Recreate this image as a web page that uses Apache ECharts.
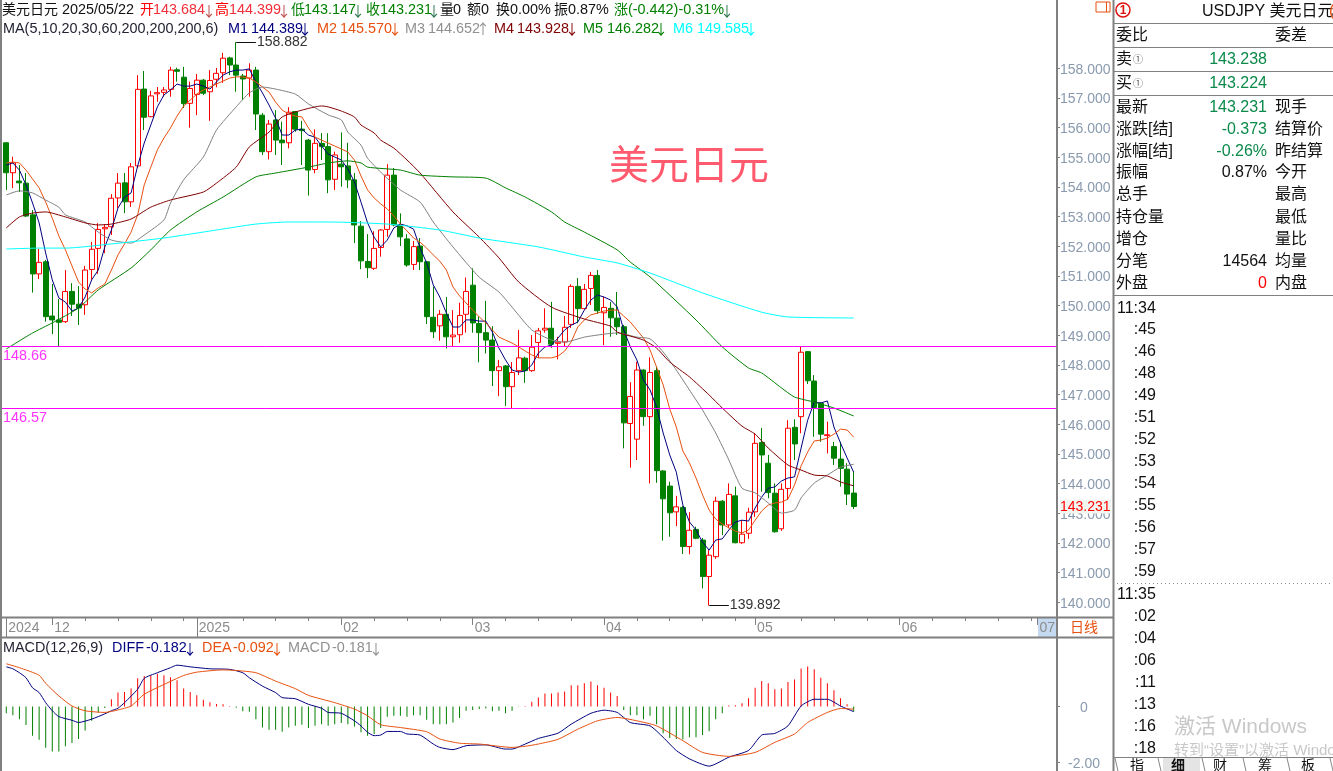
<!DOCTYPE html>
<html>
<head>
<meta charset="utf-8">
<title>USDJPY</title>
<script src="https://cdn.jsdelivr.net/npm/echarts@6/dist/echarts.min.js"></script>
<style>
html, body { margin: 0; padding: 0; background: #fff; overflow: hidden; }
#chart { width: 1333px; height: 771px; }
</style>
</head>
<body>
<div id="chart"></div>
<script>
// open, close, low, high
const ohlc = [
  [155.49,154.48,153.90,155.51],[154.48,154.81,153.96,155.02],[154.20,154.14,153.83,154.74],[154.13,153.02,152.99,154.47],
  [153.06,151.07,150.44,153.22],[151.07,151.46,150.90,151.91],[151.48,149.63,149.46,151.54],[149.65,149.52,149.04,150.73],
  [149.52,149.44,148.64,150.23],[149.46,150.48,149.42,151.20],[150.48,150.05,149.65,150.76],[150.05,149.92,149.35,150.66],
  [150.03,151.20,149.69,151.34],[151.22,151.90,150.87,152.15],[151.93,152.57,151.07,152.78],[152.59,152.64,151.77,152.75],
  [152.66,153.62,152.38,153.76],[153.63,154.13,153.29,154.47],[154.14,153.50,153.12,154.47],[153.50,154.68,153.33,154.81],
  [154.71,157.29,154.64,157.77],[157.30,156.35,155.92,157.91],[156.37,157.07,156.35,157.24],[157.14,157.18,156.87,157.37],
  [157.19,157.27,157.04,157.37],[157.29,157.94,157.04,158.05],[157.95,157.90,157.55,158.02],[157.70,156.81,156.66,158.05],
  [156.82,157.32,156.00,157.55],[157.12,157.60,156.42,157.81],[157.60,157.16,157.10,157.64],[157.21,157.59,156.23,157.94],
  [157.63,157.83,157.36,158.01],[157.85,158.34,157.51,158.52],[158.35,158.11,157.77,158.39],[158.11,157.77,157.21,158.882],
  [157.74,157.64,156.93,157.81],[157.67,157.94,157.04,158.17],[157.94,156.46,155.92,158.05],[156.42,155.19,155.08,156.49],
  [155.19,156.12,154.93,156.26],[156.26,155.58,155.08,156.59],[155.58,155.49,154.74,156.20],[155.49,156.52,155.30,156.69],
  [156.54,155.95,155.86,156.56],[155.95,155.90,154.74,156.23],[155.58,154.57,153.71,155.62],[154.59,155.47,154.46,155.94],
  [155.47,155.36,154.91,155.82],[155.36,154.24,153.79,155.81],[154.26,155.08,153.90,155.19],[154.77,154.68,154.01,155.84],
  [154.71,154.24,153.96,155.49],[154.24,152.72,152.11,154.47],[152.68,151.51,151.23,152.85],[151.49,151.28,150.93,152.41],
  [151.26,151.93,151.20,152.51],[151.96,152.55,151.65,152.58],[152.57,154.40,152.32,154.77],[154.40,152.72,152.68,154.64],
  [152.72,152.32,152.01,153.11],[152.25,151.37,151.31,152.41],[151.39,151.99,151.20,152.18],[152.01,151.48,151.20,152.28],
  [151.48,149.63,149.38,151.50],[149.61,149.12,148.91,150.64],[149.32,149.71,148.82,149.85],[149.71,148.95,148.56,150.29],
  [148.95,149.01,148.64,149.85],[149.02,149.67,148.75,150.10],[149.71,150.48,149.09,150.95],[150.69,149.42,149.09,151.26],
  [149.40,149.09,148.09,149.63],[149.09,148.84,148.39,150.16],[148.84,147.81,147.29,149.31],[147.81,147.94,146.95,148.17],
  [147.97,147.27,146.62,148.00],[147.27,147.75,146.54,148.10],[147.81,148.24,147.66,149.18],[148.23,147.81,147.40,148.28],
  [147.81,148.60,147.77,149.01],[148.76,149.15,148.24,149.25],[149.18,149.24,149.09,149.91],[149.24,148.70,148.58,150.13],
  [148.73,148.77,148.19,148.95],[148.78,149.27,148.64,149.65],[149.37,150.65,149.25,150.72],[150.65,149.90,149.41,150.93],
  [149.90,150.55,149.88,150.73],[150.58,151.02,150.02,151.14],[151.02,149.83,149.72,151.20],[149.76,149.94,148.67,150.30],
  [149.91,149.59,148.95,150.13],[149.58,149.29,149.01,150.46],[149.29,146.05,145.19,149.35],[146.03,146.94,144.54,147.42],
  [145.50,147.83,144.80,148.11],[147.83,146.26,145.95,147.86],[146.26,147.75,144.01,148.26],[147.81,144.44,144.03,147.94],
  [144.43,143.49,142.08,144.46],[143.92,143.02,142.21,144.07],[143.05,143.22,142.57,143.59],[143.20,141.88,141.63,143.25],
  [141.88,142.43,141.62,143.04],[142.46,142.16,142.13,142.55],[142.10,140.87,140.47,142.17],[140.87,141.59,139.892,141.76],
  [141.54,143.41,141.47,143.56],[143.41,142.61,142.27,143.45],[142.61,143.64,142.50,144.01],[143.59,142.01,141.99,143.90],
  [142.01,142.30,141.97,142.77],[142.33,143.04,142.14,143.19],[143.05,145.36,142.88,145.70],[145.39,144.97,143.73,145.88],
  [144.69,143.70,143.51,144.97],[143.68,142.38,142.35,144.01],[142.48,143.81,142.41,144.01],[143.84,145.87,143.45,146.14],
  [145.90,145.34,144.80,146.17],[146.26,148.43,145.70,148.62],[148.45,147.47,147.36,148.47],[147.46,146.57,145.58,147.66],
  [146.71,145.67,145.41,146.75],[145.62,145.65,145.02,146.09],[145.25,144.86,144.63,145.41],[144.83,144.52,143.90,145.41],
  [144.49,143.65,143.28,144.69],[143.684,143.231,143.147,144.399]
]

const ma5 = [154.74,154.81,154.57,154.07,153.46,152.79,151.77,150.87,150.26,150.12,149.82,149.92,150.29,150.87,151.20,151.98,152.55,153.29,153.66,153.80,
  154.71,155.48,156.09,156.70,157.10,157.27,157.47,157.40,157.40,157.47,157.40,157.30,157.54,157.77,157.88,157.94,157.94,157.98,157.54,157.17,
  156.76,156.32,155.75,155.75,155.92,155.95,155.75,155.68,155.38,155.11,155.01,154.91,154.61,154.17,153.49,152.79,152.31,151.98,152.21,152.62,
  152.75,152.69,152.58,151.94,151.44,150.70,150.29,149.75,149.28,149.28,149.52,149.52,149.48,149.48,149.11,148.57,148.17,147.83,147.76,147.80,
  148.00,148.40,148.61,148.67,148.91,149.18,149.34,149.45,149.85,150.19,150.36,150.29,150.19,149.96,149.18,148.61,148.17,147.49,147.16,146.58,
  145.71,144.97,144.39,143.28,142.71,142.44,142.03,141.76,142.10,142.14,142.44,142.71,142.77,142.74,143.18,143.55,143.85,143.89,144.09,144.19,
  144.23,145.20,146.14,146.75,146.72,146.79,145.91,145.37,144.87,144.389]

const ma10 = [154.81,154.84,154.81,154.57,154.27,153.97,153.49,152.95,152.35,151.88,151.34,150.80,150.56,150.43,150.60,150.73,151.20,151.71,152.08,152.48,
  153.06,154.07,154.67,155.25,155.65,155.99,156.39,156.73,156.93,157.13,157.27,157.37,157.47,157.57,157.67,157.71,157.71,157.67,157.54,157.37,
  157.20,156.86,156.59,156.46,156.39,156.36,155.99,155.68,155.58,155.48,155.38,155.28,155.18,154.91,154.37,153.90,153.63,153.43,153.26,153.02,
  152.75,152.52,152.28,152.14,151.94,151.71,151.50,151.20,150.63,150.33,150.09,149.85,149.62,149.42,149.18,148.94,148.84,148.74,148.61,148.47,
  148.34,148.24,148.24,148.24,148.30,148.47,148.78,149.28,149.52,149.69,149.75,149.82,149.85,149.85,149.65,149.45,149.18,148.91,148.51,147.93,
  147.33,146.52,145.91,145.10,144.70,144.19,143.62,143.11,142.81,142.64,142.51,142.40,142.34,142.44,142.77,143.08,143.28,143.35,143.38,143.48,
  143.96,144.60,145.07,145.44,145.47,145.54,145.67,145.84,145.81,145.570]

// the slower lines, read as [bar index, value] at their bends
const ma20 = [[0,153.73],[2,153.87],[4,153.80],[6,153.56],[8,153.32],[9,153.06],[12,152.82],[14,152.48],[16,152.21],[19,152.11],[21,152.38],[24,152.89],[25,153.46],[27,154.24],[30,155.01],[32,155.92],[35,156.70],[37,157.17],[39,157.37],[41,157.30],[44,157.13],[46,156.80],[49,156.43],[51,156.26],[52,155.85],[54,155.41],[55,154.97],[57,154.50],[60,153.90],[63,153.49],[65,152.82],[68,151.98],[72,150.96],[75,150.46],[77,149.95],[80,149.18],[83,148.84],[85,148.77],[88,148.94],[91,149.04],[93,149.08],[96,148.94],[98,148.88],[100,148.44],[102,147.83],[104,147.16],[106,146.48],[108,145.71],[110,144.80],[112,143.85],[114,143.69],[116,143.35],[118,143.01],[120,143.11],[121,143.52],[123,144.02],[125,144.29],[127,144.56],[129,144.652]]
const ma30 = [[0,152.62],[2,152.99],[4,153.12],[6,153.16],[9,152.99],[12,152.79],[14,152.72],[16,152.75],[19,152.92],[22,153.32],[25,153.56],[30,153.83],[32,154.13],[35,154.67],[37,155.35],[40,155.85],[42,156.36],[45,156.59],[48,156.73],[49,156.70],[51,156.56],[53,156.36],[54,156.09],[56,155.82],[57,155.58],[59,155.31],[61,154.91],[63,154.47],[68,153.16],[72,152.31],[75,151.61],[78,150.80],[83,149.95],[88,149.55],[92,149.31],[93,149.11],[97,148.84],[99,148.57],[101,148.10],[104,147.60],[107,146.99],[109,146.55],[112,145.94],[114,145.67],[116,145.20],[119,144.63],[121,144.46],[123,144.29],[125,144.26],[127,144.06],[129,143.928]]
const ma60 = [[0,148.54],[4,149.08],[7,149.42],[11,149.92],[14,150.53],[19,151.27],[22,151.88],[25,152.55],[29,153.16],[33,153.66],[38,154.34],[41,154.47],[46,154.67],[49,154.81],[52,154.88],[54,154.81],[55,154.67],[60,154.57],[63,154.40],[68,154.34],[73,154.30],[76,153.97],[79,153.66],[83,153.16],[85,152.82],[88,152.48],[93,151.88],[95,151.47],[98,150.97],[105,149.52],[109,148.61],[113,147.90],[115,147.73],[118,147.23],[120,146.92],[123,146.75],[126,146.55],[129,146.282]]
const ma200 = [[0,151.91],[5,151.94],[9,151.94],[16,152.08],[24,152.28],[32,152.55],[38,152.75],[43,152.82],[49,152.82],[58,152.75],[66,152.55],[72,152.28],[81,151.98],[88,151.64],[93,151.44],[98,151.10],[106,150.43],[115,149.78],[119,149.62],[129,149.585]]

const macdBars = [-0.24,-0.31,-0.45,-0.66,-1.04,-1.19,-1.47,-1.61,-1.61,-1.42,-1.30,-1.16,-0.86,-0.51,-0.21,-0.05,0.26,0.50,0.52,0.65,
  1.01,1.09,1.12,1.17,1.12,1.05,0.94,0.65,0.52,0.40,0.24,0.15,0.09,0.08,0.02,-0.04,-0.17,-0.19,-0.45,-0.75,
  -0.83,-0.83,-0.90,-0.75,-0.69,-0.65,-0.77,-0.69,-0.63,-0.69,-0.63,-0.59,-0.63,-0.71,-0.92,-1.04,-0.98,-0.77,-0.36,-0.33,
  -0.33,-0.36,-0.31,-0.31,-0.47,-0.63,-0.63,-0.63,-0.57,-0.41,-0.15,-0.12,-0.09,-0.07,-0.17,-0.15,-0.24,-0.15,-0.01,0.02,
  0.17,0.32,0.47,0.47,0.50,0.54,0.76,0.76,0.83,0.90,0.76,0.67,0.50,0.38,-0.12,-0.31,-0.31,-0.45,-0.33,-0.63,
  -0.95,-1.12,-1.16,-1.18,-1.10,-1.10,-1.02,-0.88,-0.45,-0.24,0.04,0.05,0.12,0.30,0.67,0.91,0.83,0.62,0.65,0.88,
  0.97,1.36,1.43,1.33,1.03,0.83,0.58,0.30,0.08,-0.181]
const diff = [[0,1.42],[1,1.35],[2,1.21],[3,1.03],[4,0.67],[5,0.50],[6,0.14],[7,-0.15],[8,-0.36],[10,-0.49],[11,-0.57],[13,-0.45],[15,-0.26],[16,-0.15],[17,-0.06],[18,0.14],[20,0.62],[21,1.01],[23,1.21],[25,1.39],[26,1.48],[28,1.42],[31,1.35],[34,1.33],[36,1.21],[37,1.03],[39,0.73],[41,0.50],[42,0.32],[44,0.28],[46,0.08],[48,-0.06],[49,-0.21],[51,-0.24],[53,-0.51],[54,-0.69],[55,-0.92],[56,-1.04],[57,-1.02],[58,-0.89],[60,-0.89],[61,-0.98],[63,-1.02],[65,-1.34],[66,-1.46],[68,-1.54],[70,-1.40],[73,-1.37],[76,-1.52],[77,-1.52],[79,-1.34],[81,-1.14],[84,-0.95],[86,-0.63],[89,-0.24],[91,-0.13],[93,-0.21],[95,-0.57],[98,-0.69],[100,-1.10],[102,-1.57],[104,-1.87],[107,-2.13],[110,-1.81],[113,-1.57],[115,-1.02],[117,-0.96],[119,-0.69],[121,0.02],[123,0.26],[125,0.26],[127,0.02],[129,-0.182]]
const dea = [[0,1.53],[2,1.39],[5,1.12],[6,0.83],[8,0.38],[10,0.02],[12,-0.15],[15,-0.21],[17,-0.12],[19,0.02],[21,0.44],[24,0.79],[27,1.11],[29,1.23],[33,1.31],[35,1.29],[38,1.21],[41,0.91],[44,0.64],[46,0.40],[50,0.14],[53,-0.09],[55,-0.33],[57,-0.65],[60,-0.75],[64,-0.90],[66,-1.16],[69,-1.31],[72,-1.34],[77,-1.46],[79,-1.42],[81,-1.34],[84,-1.17],[87,-0.81],[90,-0.51],[93,-0.39],[96,-0.51],[99,-0.69],[103,-1.22],[106,-1.64],[110,-1.78],[114,-1.64],[117,-1.28],[120,-0.98],[122,-0.57],[125,-0.21],[127,-0.07],[129,-0.092]]

const priceTicks = [140,141,142,143,144,145,146,147,148,149,150,151,152,153,154,155,156,157,158]
const levels = [148.66, 146.57]
const yearIdx = [0, 29]
const monthIdx = [7, 51, 71, 91, 114, 136, 157]
const weekIdx = [12,17,22,27,36,41,46,56,61,66,76,81,86,96,101,106,111,121,126,131,141,146,151,156]
const monthNames = { 0: '2024', 7: '12', 29: '2025', 51: '02', 71: '03', 91: '04', 114: '05', 136: '06', 157: '07' }
const barCount = 160
const days = []
for (let i = 0; i < barCount; i++) {
  days.push(String(i))
}

const font = "'Liberation Sans','Noto Sans CJK SC',sans-serif"
const red = '#ff0000'
const green = '#008000'
const navy = '#000080'
const orange = '#e8500f'
const grey = '#808080'
const darkRed = '#800000'
const axisText = '#8a9aae'
const quoteGreen = '#0a8a4a'
const frame = '#808080'
const headSize = 14.4

// header pieces: text, x, colour (arrows: x is the glyph centre)
const headerRow1 = [
  ['美元日元',2,'#111'],['2025/05/22',62,'#111'],['开',140,red],['143.684',153,'#f0303a'],['↓',209,'#c05050'],
  ['高',215,red],['144.399',229,'#f0303a'],['↓',284,'#c05050'],['低',291,green],['143.147',304,green],['↓',358,'#307850'],
  ['收',366,green],['143.231',380,green],['↓',434,'#307850'],['量',440,'#111'],['0',453,'#111'],['额',467,'#111'],['0',481,'#111'],
  ['换',496,'#111'],['0.00%',510,'#111'],['振',554,'#111'],['0.87%',568,'#111'],['涨',614,green],['(-0.442)-0.31%',628,green],['↓',727,'#307850']
]
const headerRow2 = [
  ['MA(5,10,20,30,60,200,200,200,6)',3,'#223'],['M1',228,navy],['144.389',251,navy],['↓',305,navy],
  ['M2',317,orange],['145.570',340,orange],['↓',395,orange],['M3',405,'#909090'],['144.652',428,'#909090'],['↑',483,'#909090'],
  ['M4',494,darkRed],['143.928',517,darkRed],['↓',572,darkRed],['M5',583,green],['146.282',607,green],['↓',661,green],
  ['M6',673,'#00ffff'],['149.585',697,'#00ffff'],['↓',751,'#00ffff']
]
const macdHeader = [
  ['MACD(12,26,9)',3,'#223'],['DIFF',112,navy],['-0.182',146,navy],['↓',190,navy],['DEA',202,orange],['-0.092',233,orange],['↓',277,orange],
  ['MACD',288,'#909090'],['-0.181',332,'#909090'],['↓',376,'#909090']
]

// side panel rows: y, left label, value, value colour, right label
const panelRows = [
  [35,'委比','','','委差'],[59,'卖','143.238',quoteGreen,''],[83,'买','143.224',quoteGreen,''],
  [107,'最新','143.231',quoteGreen,'现手'],[129,'涨跌[结]','-0.373',quoteGreen,'结算价'],[151,'涨幅[结]','-0.26%',quoteGreen,'昨结算'],
  [172,'振幅','0.87%','#111','今开'],[194,'总手','','','最高'],[217,'持仓量','','','最低'],[239,'增仓','','','量比'],
  [261,'分笔','14564','#111','均量'],[283,'外盘','0',red,'内盘']
]
const panelLines = [23,47,71,95,295]
const timeRows = [
  [329,':45'],[351,':46'],[373,':48'],[395,':49'],[417,':51'],[439,':52'],[461,':53'],[483,':54'],[505,':55'],[527,':56'],[549,':57'],[571,':59'],
  [616,':02'],[638,':04'],[660,':06'],[682,':11'],[704,':13'],[726,':16'],[748,':18']
]
const tabs = [['指',1137],['细',1178],['财',1220],['筹',1265],['板',1308]]

function label(text, x, y, fill, size, extra) {
  return {
    type: 'text', x: x, y: y + 1.5, silent: true, z: 5,
    style: Object.assign({ text: text, fill: fill, font: size + 'px ' + font, verticalAlign: 'middle', align: 'left' }, extra || {})
  }
}
function headLabel(r, y) {
  if (r[0] === '↓' || r[0] === '↑') {
    return label(r[0], r[1], y, r[2], 14, { align: 'center', font: "14px 'Noto Sans CJK SC'" })
  }
  // chinese runs are set a touch smaller than the digits
  return label(r[0], r[1], y, r[2], r[0].charCodeAt(0) > 255 ? 14 : headSize)
}
function rule(x1, y1, x2, y2, stroke, width, extra) {
  return {
    type: 'line', silent: true, z: 4,
    shape: { x1: x1, y1: y1, x2: x2, y2: y2 },
    style: Object.assign({ stroke: stroke, lineWidth: width }, extra || {})
  }
}

const parts = []
parts.push({ type: 'rect', z: -1, silent: true, shape: { x: 1038, y: 618, width: 18, height: 19 }, style: { fill: '#c5d9f1' } })
headerRow1.forEach(r => parts.push(headLabel(r, 9)))
headerRow2.forEach(r => parts.push(headLabel(r, 27.5)))
macdHeader.forEach(r => parts.push(headLabel(r, 647)))
parts.push(label('美元日元', 609, 166, '#ff5a6e', 40))
parts.push(label('日线', 1070, 627, orange, 14))

// frame
parts.push(rule(1, 0, 1, 771, frame, 2))
parts.push(rule(1057, 0, 1057, 771, frame, 2))
parts.push(rule(1113.5, 0, 1113.5, 771, frame, 2))
parts.push(rule(0, 617.5, 1113, 617.5, frame, 2))
parts.push(rule(0, 637.5, 1113, 637.5, frame, 2))
panelLines.forEach(y => parts.push(rule(1113, y + 0.5, 1333, y + 0.5, frame, 1)))
parts.push(rule(1117, 583.5, 1333, 583.5, '#888', 1, { lineDash: [1, 3] }))

// side panel
parts.push({ type: 'rect', silent: true, shape: { x: 1096, y: 2, width: 14, height: 10 }, style: { fill: 'none', stroke: '#e8500f', lineWidth: 1 } })
parts.push(rule(1106.5, 2, 1106.5, 12, '#e8500f', 1))
parts.push({ type: 'circle', silent: true, shape: { cx: 1123, cy: 10, r: 7 }, style: { fill: 'none', stroke: '#e01010', lineWidth: 1.5 } })
parts.push(label('1', 1123, 9, '#e01010', 12, { align: 'center', font: 'bold 12px ' + font }))
parts.push(label('USDJPY 美元日元', 1202, 10, '#111', 16))
parts.push(label('(', 1329, 10, orange, 16))
panelRows.forEach(r => {
  parts.push(label(r[1], 1116, r[0] - 0.5, '#111', 16))
  if (r[2]) parts.push(label(r[2], 1267, r[0] - 0.5, r[3], 16, { align: 'right' }))
  if (r[4]) parts.push(label(r[4], 1275, r[0] - 0.5, '#111', 16))
})
parts.push(label('①', 1133, 59, '#555', 10))
parts.push(label('①', 1133, 83, '#555', 10))
parts.push(label('11:34', 1117, 307, '#111', 16))
parts.push(label('11:35', 1117, 593, '#111', 16))
timeRows.forEach(r => parts.push(label(r[1], 1156, r[0] - 0.5, '#111', 16, { align: 'right' })))

// tabs and the windows notice
parts.push(label('激活 Windows', 1174, 726, '#c8c8c8', 21))
parts.push(label('转到“设置”以激活 Windows', 1174, 749, '#c8c8c8', 15))
parts.push({ type: 'rect', silent: true, z: 3, shape: { x: 1163, y: 758, width: 37, height: 13 }, style: { fill: '#e4e4e4' } })
parts.push(rule(1113, 757.5, 1333, 757.5, frame, 1))
tabs.forEach((t, i) => parts.push(label(t[0], t[1], 765, '#111', 14, { align: 'center', font: (i === 1 ? 'bold ' : '') + '14px ' + font })))
;[1115, 1158, 1202, 1243, 1287, 1330].forEach(x => parts.push(rule(x, 758, x + 3, 771, '#888', 1)))

const chart = echarts.init(document.getElementById('chart'))

function monthAxis(values, length, withLabels) {
  return {
    type: 'category',
    gridIndex: 0,
    data: days,
    boundaryGap: true,
    position: 'bottom',
    axisLine: { show: withLabels, onZero: false, lineStyle: { color: frame, width: 1 } },
    axisTick: { show: true, customValues: values, alignWithLabel: true, length: length, lineStyle: { color: frame } },
    axisLabel: withLabels ? {
      show: true,
      customValues: yearIdx.concat(monthIdx),
      formatter: v => monthNames[v] || '',
      align: 'left',
      color: '#8c8c8c',
      fontFamily: font,
      fontSize: 14,
      margin: 4,
      padding: [0, 0, 0, 2]
    } : { show: false },
    splitLine: { show: false }
  }
}

function maSeries(name, data, color, smooth) {
  return {
    name: name, type: 'line', data: data, symbol: 'none', smooth: smooth, z: 3,
    connectNulls: true, lineStyle: { color: color, width: 1 }, itemStyle: { color: color }
  }
}

// horizontal support lines, one label under each at the left
function renderLevel(params, api) {
  const v = api.value(1)
  const y = Math.floor(api.coord([0, v])[1] + 1) + 0.5
  const box = params.coordSys
  return {
    type: 'group',
    children: [
      { type: 'line', shape: { x1: box.x - 1, y1: y, x2: box.x + box.width + 3, y2: y }, style: { stroke: '#ff00ff', lineWidth: 1 } },
      { type: 'text', x: box.x, y: y + 10, style: { text: String(v), fill: '#ff33ff', font: '14.4px ' + font, verticalAlign: 'middle' } }
    ]
  }
}

chart.setOption({
  animation: false,
  backgroundColor: '#fff',
  grid: [
    { left: 3, top: 0, width: 1051, height: 617 },
    { left: 3, top: 638, width: 1051, height: 133 }
  ],
  xAxis: [
    monthAxis(weekIdx, 4, true),
    monthAxis(monthIdx, 8, false),
    monthAxis(yearIdx, 20, false),
    { type: 'category', gridIndex: 1, data: days, show: false }
  ],
  yAxis: [
    {
      type: 'value',
      gridIndex: 0,
      position: 'right',
      offset: 3,
      min: 139.507,
      max: 160.302,
      axisLine: { show: false },
      axisTick: { show: true, customValues: priceTicks, length: 3, lineStyle: { color: frame } },
      axisLabel: {
        show: true,
        customValues: priceTicks,
        formatter: v => v.toFixed(3),
        color: axisText,
        fontFamily: font,
        fontSize: 14,
        margin: 3,
        verticalAlign: 'top',
        lineHeight: 3
      },
      splitLine: { show: false }
    },
    {
      type: 'value',
      gridIndex: 1,
      position: 'right',
      offset: 3,
      min: -2.274,
      max: 2.451,
      axisLine: { show: false },
      axisTick: { show: true, customValues: [0, -2], length: 3, lineStyle: { color: frame } },
      axisLabel: {
        show: true,
        customValues: [0, -2],
        formatter: v => (v === 0 ? '0' : v.toFixed(2)),
        color: axisText,
        fontFamily: font,
        fontSize: 14,
        align: 'center',
        margin: 27,
        verticalAlign: 'top',
        lineHeight: 3
      },
      splitLine: { show: false }
    }
  ],
  series: [
    {
      name: 'K',
      type: 'candlestick',
      data: ohlc,
      barWidth: 5.5,
      z: 2,
      itemStyle: { color: '#fff', color0: green, borderColor: red, borderColor0: green, borderWidth: 1 },
      markLine: {
        silent: true,
        symbol: 'none',
        z: 4,
        lineStyle: { color: '#111', width: 1, type: 'solid' },
        data: [
          [
            { coord: [35, 158.882], label: { formatter: '158.882', position: 'end', color: '#333', fontFamily: font, fontSize: 14, distance: 1, padding: [3, 0, 0, 0] } },
            { coord: [38, 158.882] }
          ],
          [
            { coord: [107, 139.892], label: { formatter: '139.892', position: 'end', color: '#333', fontFamily: font, fontSize: 14, distance: 1, padding: [3, 0, 0, 0] } },
            { coord: [110, 139.892] }
          ]
        ]
      }
    },
    maSeries('M1', ma5, navy, false),
    maSeries('M2', ma10, orange, false),
    maSeries('M3', ma20, grey, 0.2),
    maSeries('M4', ma30, darkRed, 0.2),
    maSeries('M5', ma60, green, 0.2),
    maSeries('M6', ma200, '#00ffff', 0.2),
    {
      name: 'levels',
      type: 'custom',
      z: 4,
      silent: true,
      clip: false,
      encode: { x: 0, y: 1 },
      data: levels.map(v => [0, v]),
      renderItem: renderLevel
    },
    {
      name: 'MACD',
      type: 'bar',
      xAxisIndex: 3,
      yAxisIndex: 1,
      data: macdBars,
      barWidth: 1,
      itemStyle: { color: p => (p.value >= 0 ? red : green) }
    },
    {
      name: 'DIFF', type: 'line', xAxisIndex: 3, yAxisIndex: 1, data: diff, symbol: 'none', z: 3, smooth: 0.2,
      lineStyle: { color: navy, width: 1 }
    },
    {
      name: 'DEA', type: 'line', xAxisIndex: 3, yAxisIndex: 1, data: dea, symbol: 'none', z: 3, smooth: 0.2,
      lineStyle: { color: orange, width: 1 }
    }
  ],
  graphic: { elements: parts }
})

// last price tag sits on top of the axis labels
const lastClose = ohlc[ohlc.length - 1][1]
const lastY = chart.convertToPixel({ yAxisIndex: 0 }, lastClose)
parts.push({ type: 'rect', silent: true, z: 6, shape: { x: 1060, y: lastY - 7, width: 51, height: 14 }, style: { fill: '#f0f5f0' } })
parts.push({ type: 'text', x: 1060, y: lastY + 1, silent: true, z: 7, style: { text: String(lastClose), fill: red, font: '14px ' + font, verticalAlign: 'middle' } })
chart.setOption({ graphic: { elements: parts } }, { replaceMerge: ['graphic'] })
</script>
</body>
</html>
